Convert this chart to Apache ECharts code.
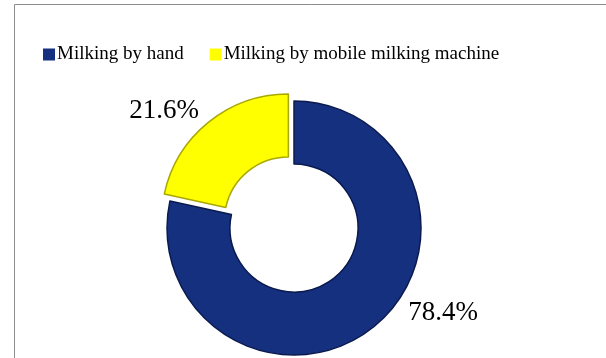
<!DOCTYPE html>
<html>
<head>
<meta charset="utf-8">
<script src="https://cdn.jsdelivr.net/npm/echarts@6/dist/echarts.min.js"></script>
<style>
html,body{margin:0;padding:0;background:#fff;}
#c{width:606px;height:358px;}
</style>
</head>
<body>
<div id="c"></div>
<script>
const categories = ['Milking by hand', 'Milking by mobile milking machine'];
const values = [78.4, 21.6];
const colors = ['#14307e', '#ffff00'];
const borders = ['#0a1a4e', '#a8a800'];

const chart = echarts.init(document.getElementById('c'), null, {renderer: 'canvas'});
const labelPos = [
  {x: 443, y: 313},
  {x: 158, y: 116}
];
chart.setOption({
  animation: false,
  backgroundColor: '#ffffff',
  graphic: [{
    type: 'rect',
    shape: {x: 14.5, y: 4.5, width: 600, height: 360},
    style: {fill: 'none', stroke: '#8c8c8c', lineWidth: 1},
    silent: true
  }],
  legend: {
    left: 43,
    top: 45,
    padding: 0,
    itemWidth: 12,
    itemHeight: 12,
    itemGap: 26,
    icon: 'rect',
    itemStyle: {borderWidth: 0},
    textStyle: {fontFamily: 'Liberation Serif', fontSize: 19, color: '#000', padding: [0, 0, 0, -3]},
    data: categories
  },
  series: [{
    type: 'pie',
    center: [294, 228],
    radius: [64, 127],
    startAngle: 90,
    clockwise: true,
    selectedMode: 'single',
    selectedOffset: 9,
    avoidLabelOverlap: false,
    label: {
      show: true,
      position: 'outside',
      formatter: p => p.value.toFixed(1) + '%',
      fontFamily: 'Liberation Serif',
      fontSize: 27,
      color: '#000'
    },
    labelLine: {show: false},
    labelLayout: p => Object.assign({align: 'center', verticalAlign: 'middle'}, labelPos[p.dataIndex]),
    emphasis: {disabled: true},
    data: categories.map((n, i) => ({
      name: n,
      value: values[i],
      selected: i === 1,
      itemStyle: {color: colors[i], borderColor: borders[i], borderWidth: 1.5}
    }))
  }]
});
</script>
</body>
</html>
